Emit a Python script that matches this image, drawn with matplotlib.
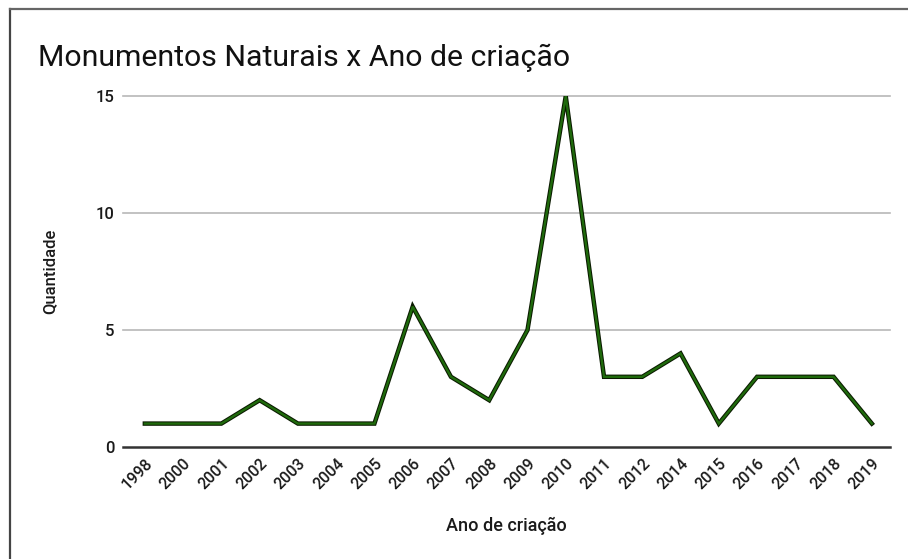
import matplotlib
matplotlib.use("Agg")
import matplotlib.pyplot as plt
from matplotlib.lines import Line2D

plt.rcParams['font.family'] = ['Roboto', 'DejaVu Sans']

# Dados
anos = ['1998', '2000', '2001', '2002', '2003', '2004', '2005', '2006', '2007', '2008',
        '2009', '2010', '2011', '2012', '2014', '2015', '2016', '2017', '2018', '2019']
quantidade = [1, 1, 1, 2, 1, 1, 1, 6, 3, 2, 5, 15, 3, 3, 4, 1, 3, 3, 3, 1]
yticks = [0, 5, 10, 15]

fig = plt.figure(figsize=(9.08, 5.59), dpi=100)
ax = fig.add_axes([0.1355, 0.2004, 0.8445, 0.6276])

x = list(range(len(anos)))
ax.plot(x, quantidade, color='#0a1a00', linewidth=3.2, solid_joinstyle='miter', zorder=3)
ax.plot(x, quantidade, color='#1f6a0c', linewidth=1.7, solid_joinstyle='miter', zorder=4)

ax.set_xlim(-0.57, 19.47)
ax.set_ylim(0, 15)
ax.set_yticks(yticks)
ax.set_xticks(x)
ax.set_xticklabels(anos, rotation=45, ha='right', rotation_mode='anchor',
                   fontsize=11.5, fontweight='medium', color='#1a1a1a')
ax.tick_params(axis='x', length=0, pad=6)
ax.tick_params(axis='y', length=0, pad=6, labelsize=12, labelcolor='#1a1a1a')
for t in ax.get_yticklabels():
    t.set_fontweight('medium')

for v in yticks[1:]:
    ax.axhline(v, color='#b8b8b8', linewidth=1.2, zorder=1, clip_on=False)
ax.axhline(0, color='#333333', linewidth=1.8, zorder=2, clip_on=False)

for s in ax.spines.values():
    s.set_visible(False)

ax.set_xlabel('Ano de criação', fontsize=13, fontweight='medium', color='#1a1a1a', labelpad=18)
ax.set_ylabel('Quantidade', fontsize=12, fontweight='medium', color='#1a1a1a', labelpad=28)
fig.text(0.042, 0.896, 'Monumentos Naturais x Ano de criação', fontsize=21.8, color='#111111', va='center')

# moldura
fig.add_artist(Line2D([0.0105, 0.0105], [0, 0.984], color='#444444', linewidth=1.6))
fig.add_artist(Line2D([0.0105, 1.0], [0.984, 0.984], color='#666666', linewidth=1.6))

fig.savefig('out.png', dpi=100, facecolor='white')
